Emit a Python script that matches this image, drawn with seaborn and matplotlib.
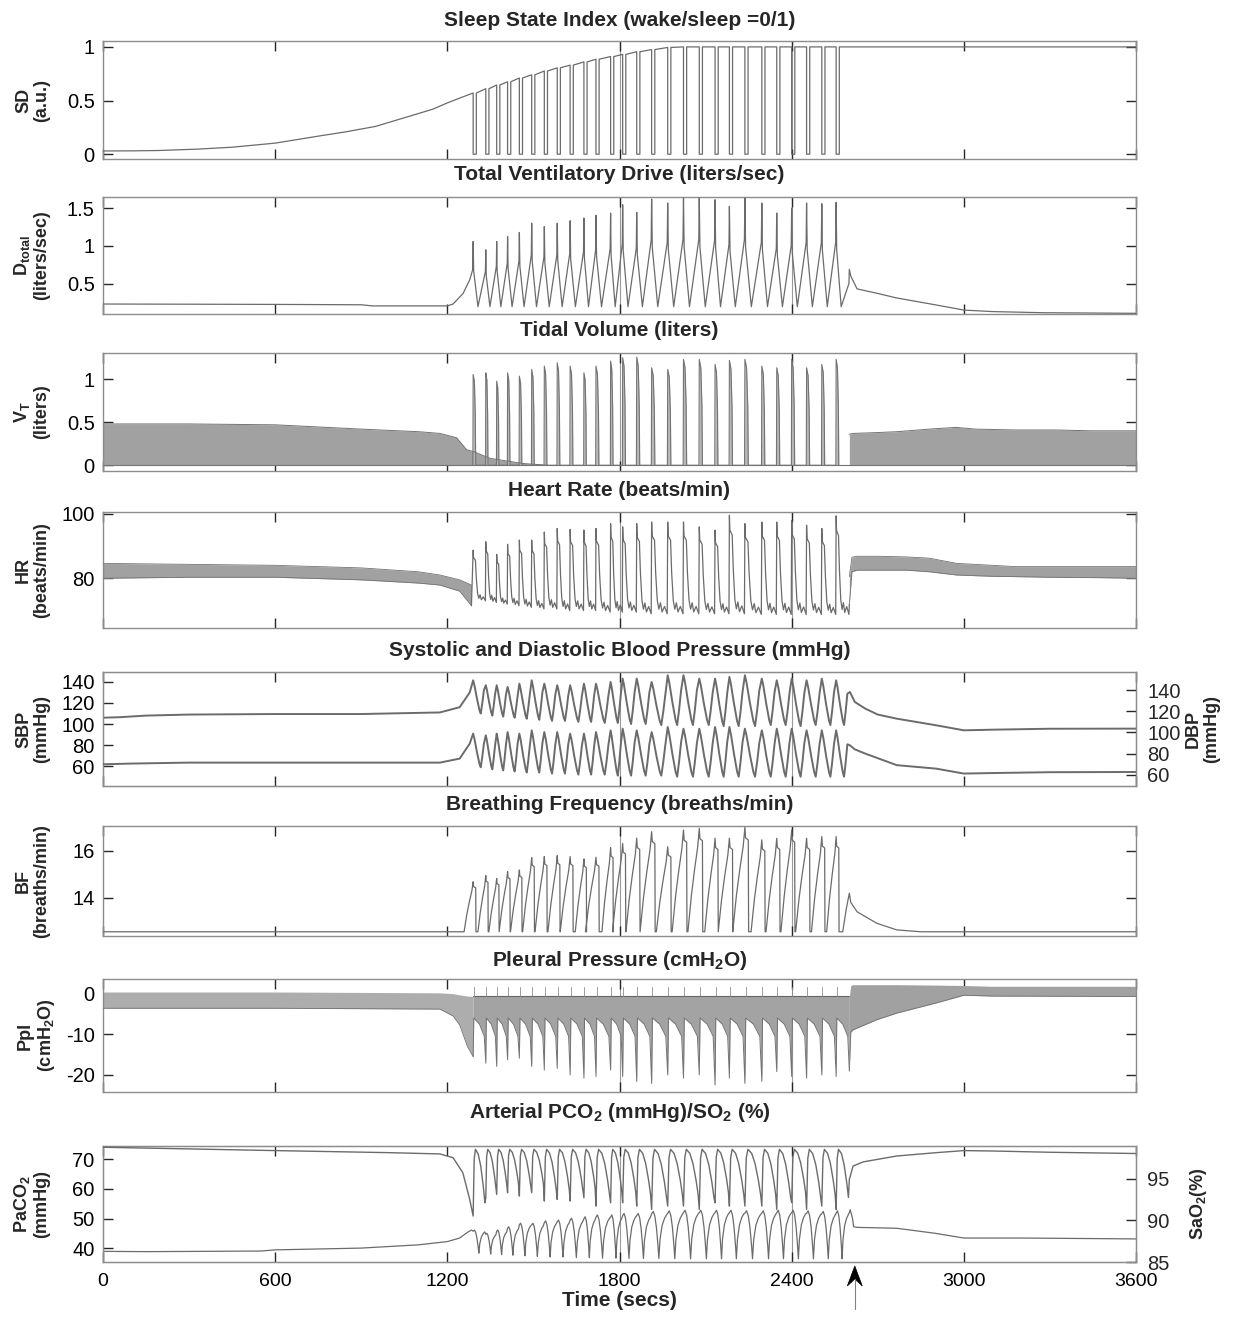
import numpy as np
import pandas as pd
import matplotlib
matplotlib.use("Agg")
import matplotlib.pyplot as plt
import seaborn as sns
from matplotlib.patches import Polygon
from matplotlib.lines import Line2D
from matplotlib.transforms import Affine2D

# ====================== DATA ======================
time_ticks = [0, 600, 1200, 1800, 2400, 3000, 3600]
seam_times = [1800, 2400]
arrow_time = 2620

# times (s) of the ventilatory-drive peaks of the periodic-breathing cycles
cycle_t = [1290, 1334, 1372, 1410, 1451, 1494, 1538, 1583, 1628, 1676, 1718, 1769, 1811,
           1860, 1912, 1968, 2023, 2078, 2133, 2183, 2237, 2296, 2348, 2400, 2452, 2505, 2555]
final_arousal_t = 2601

# 1) sleep state index
sd_pre_t = [0, 100, 192, 330, 450, 600, 743, 850, 950, 1087, 1150, 1200, 1250]
sd_pre_v = [0.03, 0.031, 0.034, 0.047, 0.065, 0.103, 0.165, 0.21, 0.259, 0.369, 0.42, 0.478, 0.53]
sd_level = [0.57, 0.61, 0.645, 0.675, 0.71, 0.74, 0.775, 0.805, 0.83, 0.86, 0.885, 0.91, 0.93,
            0.955, 0.975, 0.995, 1.0, 1.0, 1.0, 1.0, 1.0, 1.0, 1.0, 1.0, 1.0, 1.0, 1.0]
sd_wake_s = 11
sd_post_t = [2600, 3600]
sd_post_v = [1.0, 1.0]

# 2) total ventilatory drive
dt_pre_t = [0, 600, 900, 940, 1200, 1220, 1255, 1278, 1288]
dt_pre_v = [0.23, 0.225, 0.22, 0.205, 0.205, 0.23, 0.37, 0.55, 0.68]
dt_peak = [1.057, 0.947, 1.057, 1.124, 1.177, 1.30, 1.256, 1.30, 1.332, 1.367, 1.402, 1.433, 1.544,
           1.442, 1.619, 1.566, 1.632, 1.632, 1.61, 1.522, 1.632, 1.566, 1.433, 1.50, 1.566, 1.557, 1.575]
dt_trough = 0.195
dt_post_t = [2601, 2606, 2628, 2700, 2766, 2900, 3000, 3100, 3276, 3600]
dt_post_v = [0.69, 0.6, 0.43, 0.37, 0.31, 0.22, 0.15, 0.13, 0.115, 0.107]

# 3) tidal volume
vt_pre_t = [0, 300, 600, 900, 1100, 1174, 1232, 1267, 1290, 1349, 1464, 1550]
vt_pre_hi = [0.48, 0.48, 0.47, 0.42, 0.39, 0.37, 0.32, 0.18, 0.16, 0.08, 0.02, 0.0]
vt_peak = [1.055, 1.075, 0.977, 1.075, 1.036, 1.114, 1.153, 1.192, 1.153, 1.075, 1.153, 1.211, 1.25,
           1.258, 1.133, 1.114, 1.231, 1.231, 1.172, 1.219, 1.231, 1.153, 1.133, 1.231, 1.133, 1.172, 1.231]
vt_post_t = [2601, 2614, 2700, 2767, 2880, 2973, 3041, 3178, 3317, 3450, 3600]
vt_post_hi = [0.36, 0.37, 0.38, 0.39, 0.42, 0.44, 0.42, 0.41, 0.41, 0.40, 0.40]

# 4) heart rate
hr_pre_t = [0, 300, 600, 900, 1100, 1174, 1243, 1284]
hr_pre_hi = [84.6, 84.3, 84.0, 83.2, 82.0, 81.0, 79.5, 77.9]
hr_pre_lo = [80.0, 80.3, 80.3, 79.5, 78.5, 77.9, 76.0, 71.5]
hr_peak = [88.7, 91.3, 87.4, 90.5, 91.8, 91.8, 94.3, 95.4, 95.1, 94.9, 95.4, 96.9, 95.9, 96.9,
           97.4, 97.4, 97.4, 95.9, 94.9, 99.5, 96.9, 97.4, 97.4, 97.9, 96.4, 95.4, 99.3]
hr_trough = [73.0, 72.5, 72.0, 71.5, 71.0, 70.5, 70.5, 70.0, 70.0, 70.0, 69.5, 69.5, 69.5, 69.0,
             69.0, 69.0, 69.0, 69.0, 69.0, 69.0, 68.8, 68.8, 68.8, 68.8, 68.8, 68.8, 68.8]
hr_post_t = [2601, 2610, 2628, 2700, 2800, 2880, 2975, 3100, 3178, 3300, 3450, 3600]
hr_post_hi = [80.5, 86.5, 86.8, 86.8, 86.6, 86.2, 84.6, 84.0, 83.6, 83.6, 83.6, 83.6]
hr_post_lo = [72.0, 82.0, 82.5, 82.5, 82.5, 82.0, 81.0, 80.6, 80.5, 80.3, 80.2, 80.0]

# 5) blood pressure
sbp_pre_t = [0, 60, 150, 300, 600, 900, 1174, 1243, 1278]
sbp_pre_v = [106, 106.5, 108, 109, 109.5, 109.5, 111, 116, 130]
sbp_peak = [141.6, 136.9, 136.9, 135.3, 138.4, 141.6, 138.4, 136.9, 136.9, 138.4, 138.4, 140.0, 143.2,
            143.2, 140.0, 146.4, 146.4, 143.2, 143.2, 144.8, 146.4, 143.2, 141.6, 143.2, 141.6, 143.2, 141.6]
sbp_trough = [110, 108, 107, 106, 105, 104, 103, 103, 102, 102, 101, 101, 100, 100, 99, 99, 99, 99,
              98, 98, 98, 99, 99, 98, 99, 99, 99]
sbp_post_t = [2603, 2620, 2656, 2700, 2766, 2903, 3000, 3100, 3300, 3600]
sbp_post_v = [130.5, 121, 114.7, 109, 105.1, 98.8, 94.0, 94.6, 95.5, 95.6]
dbp_pre_t = [0, 100, 300, 1174, 1243, 1278]
dbp_pre_v = [69.8, 70.5, 71.4, 71.4, 75.2, 89.4]
dbp_peak = [98.9, 97.3, 98.9, 100.4, 98.9, 102.0, 100.4, 100.4, 98.9, 98.9, 100.4, 102.0, 103.6, 102.0,
            100.4, 105.2, 103.6, 103.6, 105.2, 105.2, 103.6, 102.0, 103.6, 103.6, 102.0, 102.0, 102.0]
dbp_trough = [67, 65, 64, 63, 62, 62, 61, 61, 60, 60, 60, 59, 59, 59, 59, 58, 58, 58, 58, 58, 58,
              58, 58, 58, 58, 58, 58]
dbp_post_t = [2603, 2620, 2656, 2766, 2903, 3000, 3100, 3300, 3600]
dbp_post_v = [87.8, 84.0, 80.0, 69.0, 65.7, 61.0, 61.5, 62.3, 62.5]

# 6) breathing frequency
bf_pre_t = [0, 1255]
bf_pre_v = [12.55, 12.55]
bf_base = 12.55
bf_peak = [14.68, 14.94, 14.82, 15.11, 15.18, 15.70, 15.75, 15.79, 15.75, 15.65, 15.72, 16.13, 16.31,
           16.53, 16.81, 16.17, 16.88, 16.95, 16.53, 16.53, 16.99, 16.46, 16.53, 16.88, 16.53, 16.60, 16.60]
bf_post_t = [2578, 2590, 2601, 2606, 2628, 2697, 2766, 2850, 3600]
bf_post_v = [12.55, 13.5, 14.19, 13.8, 13.4, 12.91, 12.63, 12.55, 12.55]

# 7) pleural pressure
ppl_pre_t = [0, 600, 1174, 1220, 1243, 1270, 1290]
ppl_pre_hi = [0.4, 0.4, 0.2, 0.0, -0.3, -0.6, -0.7]
ppl_pre_lo = [-3.6, -3.6, -3.8, -5.5, -7.7, -13.0, -15.5]
ppl_min = [-15.5, -17.1, -17.9, -16.3, -15.9, -17.9, -18.8, -18.4, -20.0, -20.8, -20.4, -18.8, -20.4,
           -21.6, -22.1, -20.0, -20.8, -20.0, -22.5, -20.8, -22.1, -21.6, -19.2, -20.4, -20.8, -20.0, -20.4]
ppl_cycle_top = -0.7
ppl_tick_top = 1.6
ppl_gap_v = [-6.0, -7.5, -10.5]
ppl_post_t = [2601, 2606, 2614, 2697, 2766, 2903, 3000, 3100, 3600]
ppl_post_lo = [-19.0, -9.5, -8.9, -6.4, -4.8, -2.3, -0.4, -0.6, -0.7]
ppl_post_hi = [-0.7, 2.0, 2.2, 2.2, 2.2, 2.1, 2.0, 1.8, 1.8]

# 8) arterial PCO2 (left axis) and SaO2 (right axis)
paco2_pre_t = [0, 150, 550, 600, 900, 1100, 1200, 1243, 1270, 1284]
paco2_pre_v = [38.9, 38.8, 39.0, 39.4, 40.0, 41.1, 42.2, 43.4, 45.3, 46.1]
paco2_peak = [46.1, 45.0, 46.1, 47.2, 48.4, 48.4, 49.2, 49.5, 50.1, 50.6, 51.2, 51.2, 51.7, 51.7,
              52.4, 52.6, 52.8, 52.8, 52.8, 52.8, 52.6, 52.6, 52.8, 52.8, 52.6, 52.4, 52.6]
paco2_trough = [38.3, 38.0, 37.8, 37.6, 37.4, 37.2, 37.0, 37.0, 36.8, 36.8, 36.6, 36.6, 36.5, 36.5,
                36.5, 36.4, 36.4, 36.4, 36.4, 36.4, 36.4, 36.4, 36.4, 36.4, 36.4, 36.4, 36.4]
paco2_post_t = [2601, 2604, 2612, 2616, 2628, 2766, 2900, 3000, 3200, 3600]
paco2_post_v = [52.0, 53.0, 50.0, 47.2, 47.0, 46.7, 45.0, 43.4, 43.4, 43.1]
sao2_pre_t = [0, 600, 1000, 1174, 1220, 1254, 1278]
sao2_pre_v = [98.75, 98.35, 98.1, 97.95, 97.5, 95.7, 92.5]
sao2_min = [90.5, 92.7, 93.1, 93.3, 92.9, 93.3, 92.3, 92.5, 92.3, 92.7, 91.7, 92.1, 92.1, 91.7,
            91.3, 91.7, 91.7, 91.3, 92.1, 91.7, 91.7, 91.7, 91.3, 92.1, 91.3, 91.7, 91.3]
sao2_max = 98.5
sao2_post_t = [2601, 2614, 2650, 2766, 2903, 3000, 3100, 3300, 3600]
sao2_post_v = [94.9, 96.5, 97.0, 97.7, 98.1, 98.35, 98.3, 98.15, 98.0]

# shape of one cycle as seen in the picture (phase = fraction of cycle, fr = relative amplitude)
dt_ph, dt_fr, dt_rise_ph, dt_rise_fr = [0.0, 0.04, 0.38], [1.0, 0.55, 0.0], 0.97, 0.62
vt_ph, vt_fr = [-0.02, 0.0, 0.1, 0.17, 0.2], [0.0, 1.0, 0.92, 0.55, 0.0]
hr_ph = [0, 0.03, 0.18, 0.25, 0.35, 0.45, 0.55, 0.65, 0.8, 0.97]
hr_fr = [1, 0.85, 0.8, 0.45, 0.15, 0.05, 0.12, 0.02, 0.08, 0.0]
bp_ph, bp_fr = [0, 0.1, 0.3, 0.5, 0.6, 0.72, 0.85], [1, 0.85, 0.45, 0.1, 0, 0.3, 0.7]
bf_ph = [-0.72, -0.5, -0.3, -0.1, 0, 0.04, 0.2, 0.22]
bf_fr = [0, 0.35, 0.6, 0.82, 1.0, 0.9, 0.88, 0.0]
ppl_gap_ph, ppl_tick_ph = [0.05, 0.5, 0.88], 0.04
sao2_ph, sao2_fr = [0, 0.08, 0.18, 0.4, 0.6, 0.8, 0.93], [0, 0.85, 1.0, 0.93, 0.75, 0.45, 0.2]
paco2_ph = [0, 0.1, 0.2, 0.3, 0.4, 0.45, 0.52, 0.65, 0.8, 0.92]
paco2_fr = [0.95, 1.0, 0.9, 0.65, 0.25, 0.0, 0.4, 0.7, 0.85, 0.92]

# ====================== STYLE ======================
sns.set_style("white")
plt.rcParams["font.family"] = ["Liberation Sans", "DejaVu Sans"]
plt.rcParams["mathtext.fontset"] = "custom"
plt.rcParams["mathtext.rm"] = "Liberation Sans"
plt.rcParams["mathtext.bf"] = "Liberation Sans:bold"
plt.rcParams["mathtext.it"] = "Liberation Sans:italic"

LINE = "0.42"
FILL = "0.63"
EDGE = "0.45"
TICK_FS = 14.5
LAB_FS = 13

W, H = 1241, 1321
fig = plt.figure(figsize=(W / 100, H / 100), dpi=100)
LEFT, RIGHT = 103, 1136
panel_px = [(41, 159), (197, 314), (353, 471), (512, 628), (672, 786), (826, 936), (979, 1092), (1146, 1262)]
axes = [fig.add_axes([LEFT / W, 1 - b / H, (RIGHT - LEFT) / W, (b - t) / H]) for t, b in panel_px]

N = len(cycle_t)
P = [b - a for a, b in zip(cycle_t, list(cycle_t[1:]) + [final_arousal_t])]


def wave(peaks, troughs, ph, fr):
    pk = np.broadcast_to(np.asarray(peaks, float), (N,))
    tr = np.broadcast_to(np.asarray(troughs, float), (N,))
    xs, ys = [], []
    for k in range(N):
        for a, f in zip(ph, fr):
            xs.append(cycle_t[k] + a * P[k])
            ys.append(tr[k] + f * (pk[k] - tr[k]))
    return xs, ys


def draw(ax, x, y, color=LINE, lw=0.9, z=3):
    sns.lineplot(x=np.asarray(x, float), y=np.asarray(y, float), ax=ax, sort=False,
                 estimator=None, color=color, linewidth=lw, legend=False, zorder=z)


def style(ax, ylim, yticks, ylabels, right=True):
    ax.set_xlim(0, 3600)
    ax.set_ylim(*ylim)
    ax.set_xticks(time_ticks)
    ax.set_yticks(yticks)
    ax.set_yticklabels(ylabels)
    ax.tick_params(direction="in", top=True, right=right, bottom=True, left=True, length=7,
                   width=1, color="0.15", labelsize=TICK_FS, pad=6, labelcolor="black")
    ax.tick_params(axis="x", labelbottom=False)
    for s in ax.spines.values():
        s.set_visible(True)
        s.set_color("0.55")
        s.set_linewidth(1.0)
    for t in seam_times:
        ax.axvline(t, color="0.6", lw=0.8, zorder=0.5)
    ax.set_xlabel("")


def ylab(ax, text, x=-0.051):
    ax.set_ylabel(text, fontsize=LAB_FS, fontweight="bold", linespacing=1.1)
    ax.yaxis.set_label_coords(x, 0.5)


def right_axis(ax, ylim, ticks, label, xpos):
    axr = ax.twinx()
    axr.set_xlim(0, 3600)
    axr.set_ylim(*ylim)
    axr.set_yticks(ticks)
    axr.set_yticklabels([str(t) for t in ticks])
    axr.tick_params(axis="y", direction="in", right=True, left=False, length=7, width=1,
                    color="0.15", labelsize=TICK_FS, pad=8)
    for s in axr.spines.values():
        s.set_color("0.55")
    axr.set_ylabel(label, fontsize=LAB_FS, fontweight="bold", linespacing=1.1,
                   rotation=90, va="top")
    axr.yaxis.set_label_coords(xpos, 0.5)
    return axr


# ---- 1 sleep state ----
ax = axes[0]
x, y = list(sd_pre_t), list(sd_pre_v)
for k, t0 in enumerate(cycle_t):
    x += [t0, t0, t0 + sd_wake_s, t0 + sd_wake_s]
    y += [sd_level[k], 0.0, 0.0, sd_level[k]]
x += sd_post_t
y += sd_post_v
draw(ax, x, y, lw=0.9)
style(ax, (-0.045, 1.055), [0, 0.5, 1], ["0", "0.5", "1"])
ylab(ax, "SD\n(a.u.)")

# ---- 2 ventilatory drive ----
ax = axes[1]
nxt = dt_peak[1:] + [dt_post_v[0]]
x, y = list(dt_pre_t), list(dt_pre_v)
for k, t0 in enumerate(cycle_t):
    for a, f in zip(dt_ph, dt_fr):
        x.append(t0 + a * P[k]); y.append(dt_trough + f * (dt_peak[k] - dt_trough))
    x.append(t0 + dt_rise_ph * P[k]); y.append(dt_trough + dt_rise_fr * (nxt[k] - dt_trough))
x += dt_post_t
y += dt_post_v
draw(ax, x, y, lw=0.9)
style(ax, (0.098, 1.646), [0.5, 1, 1.5], ["0.5", "1", "1.5"])
ylab(ax, "D$_\\mathbf{total}$\n(liters/sec)")

# ---- 3 tidal volume ----
ax = axes[2]
ax.fill_between(vt_pre_t, 0, vt_pre_hi, color=FILL, lw=0, zorder=2)
draw(ax, vt_pre_t, vt_pre_hi, color=EDGE, lw=0.7)
x, y = wave(vt_peak, 0.0, vt_ph, vt_fr)
ax.fill_between(x, 0, y, color="0.72", lw=0, zorder=2)
draw(ax, x, y, color=EDGE, lw=0.8)
ax.fill_between(vt_post_t, 0, vt_post_hi, color=FILL, lw=0, zorder=2)
draw(ax, vt_post_t, vt_post_hi, color=EDGE, lw=0.7)
draw(ax, [0, 3600], [0, 0], color=EDGE, lw=0.8)
style(ax, (-0.067, 1.305), [0, 0.5, 1], ["0", "0.5", "1"])
ylab(ax, "V$_\\mathbf{T}$\n(liters)")

# ---- 4 heart rate ----
ax = axes[3]
ax.fill_between(hr_pre_t, hr_pre_lo, hr_pre_hi, color=FILL, lw=0, zorder=2)
draw(ax, hr_pre_t, hr_pre_hi, color=EDGE, lw=0.6)
draw(ax, hr_pre_t, hr_pre_lo, color=EDGE, lw=0.6)
x, y = wave(hr_peak, hr_trough, hr_ph, hr_fr)
x = [hr_pre_t[-1]] + x + [hr_post_t[0]]
y = [hr_pre_lo[-1]] + y + [hr_post_lo[0]]
draw(ax, x, y, lw=0.9)
ax.fill_between(hr_post_t, hr_post_lo, hr_post_hi, color=FILL, lw=0, zorder=2)
draw(ax, hr_post_t, hr_post_hi, color=EDGE, lw=0.6)
draw(ax, hr_post_t, hr_post_lo, color=EDGE, lw=0.6)
style(ax, (64.6, 100.5), [80, 100], ["80", "100"])
ylab(ax, "HR\n(beats/min)")

# ---- 5 blood pressure ----
ax = axes[4]
x, y = wave(sbp_peak, sbp_trough, bp_ph, bp_fr)
draw(ax, list(sbp_pre_t) + x + list(sbp_post_t), list(sbp_pre_v) + y + list(sbp_post_v), lw=1.4)
style(ax, (41, 149.5), [60, 80, 100, 120, 140], ["60", "80", "100", "120", "140"], right=False)
ylab(ax, "SBP\n(mmHg)")
axr = right_axis(ax, (49.2, 157.4), [60, 80, 100, 120, 140], "DBP\n(mmHg)", 1.047)
x, y = wave(dbp_peak, dbp_trough, bp_ph, bp_fr)
draw(axr, list(dbp_pre_t) + x + list(dbp_post_t), list(dbp_pre_v) + y + list(dbp_post_v), lw=1.4)
axr.set_ylim(49.2, 157.4)
axr.set_xlabel("")

# ---- 6 breathing frequency ----
ax = axes[5]
x, y = wave(bf_peak, bf_base, bf_ph, bf_fr)
draw(ax, list(bf_pre_t) + x + list(bf_post_t), list(bf_pre_v) + y + list(bf_post_v), lw=0.9)
style(ax, (12.37, 17.05), [14, 16], ["14", "16"])
ylab(ax, "BF\n(breaths/min)")

# ---- 7 pleural pressure ----
ax = axes[6]
ax.fill_between(ppl_pre_t, ppl_pre_lo, ppl_pre_hi, color="0.68", lw=0, zorder=2)
draw(ax, ppl_pre_t, ppl_pre_lo, color=EDGE, lw=0.6)
x, y = [], []
for k, t0 in enumerate(cycle_t):
    x.append(t0); y.append(ppl_min[k])
    for a, v in zip(ppl_gap_ph, ppl_gap_v):
        x.append(t0 + a * P[k]); y.append(v)
x.append(ppl_post_t[0]); y.append(ppl_post_lo[0])
ax.fill_between(x, y, ppl_cycle_top, color="0.64", lw=0, zorder=2)
draw(ax, x, y, color=EDGE, lw=0.7)
draw(ax, [cycle_t[0], final_arousal_t], [ppl_cycle_top, ppl_cycle_top], color="0.4", lw=0.8)
for k, t0 in enumerate(cycle_t):
    tt = t0 + ppl_tick_ph * P[k]
    ax.plot([tt, tt], [ppl_cycle_top, ppl_tick_top], color="0.55", lw=0.6, zorder=3)
ax.fill_between(ppl_post_t, ppl_post_lo, ppl_post_hi, color="0.63", lw=0, zorder=2)
draw(ax, ppl_post_t, ppl_post_lo, color=EDGE, lw=0.6)
style(ax, (-24.2, 3.6), [-20, -10, 0], ["-20", "-10", "0"])
ylab(ax, "Ppl\n(cmH$_\\mathbf{2}$O)", x=-0.045)

# ---- 8 PaCO2 / SaO2 ----
ax = axes[7]
x, y = wave(paco2_peak, paco2_trough, paco2_ph, paco2_fr)
draw(ax, list(paco2_pre_t) + x + list(paco2_post_t), list(paco2_pre_v) + y + list(paco2_post_v), lw=0.9)
style(ax, (35.3, 74.5), [40, 50, 60, 70], ["40", "50", "60", "70"], right=False)
ax.tick_params(axis="x", labelbottom=True, pad=8, labelsize=14)
ax.set_xticklabels([str(t) for t in time_ticks])
ax.set_xlabel("Time (secs)", fontsize=15, fontweight="bold", labelpad=1)
ylab(ax, "PaCO$_\\mathbf{2}$\n(mmHg)")
axr = right_axis(ax, (85, 98.9), [85, 90, 95], "SaO$_\\mathbf{2}$(%)", 1.05)
x, y = wave(sao2_max, sao2_min, sao2_ph, sao2_fr)
draw(axr, list(sao2_pre_t) + x + list(sao2_post_t), list(sao2_pre_v) + y + list(sao2_post_v), lw=1.0)
axr.set_ylim(85, 98.9)
axr.set_xlabel("")

# ---- titles ----
titles = ["Sleep State Index (wake/sleep =0/1)", "Total Ventilatory Drive (liters/sec)",
          "Tidal Volume (liters)", "Heart Rate (beats/min)",
          "Systolic and Diastolic Blood Pressure (mmHg)", "Breathing Frequency (breaths/min)",
          "Pleural Pressure (cmH$_\\mathbf{2}$O)", "Arterial PCO$_\\mathbf{2}$ (mmHg)/SO$_\\mathbf{2}$ (%)"]
title_y = [20, 175, 330, 491, 650, 805, 960, 1113]
for txt, ty in zip(titles, title_y):
    fig.text((LEFT + RIGHT) / 2 / W, 1 - ty / H, txt, ha="center", va="center",
             fontsize=15, fontweight="bold")

# ---- arousal arrow under the time axis ----
xd, yd = axes[7].transData.transform((arrow_time, axes[7].get_ylim()[0]))
tr = Affine2D().translate(xd, yd)
fig.add_artist(Line2D([0, 0], [-17, -47], transform=tr, color="0.5", lw=0.8))
fig.add_artist(Polygon([(0, -4), (-7.5, -24), (0, -17), (7.5, -24)], closed=True, transform=tr,
                       facecolor="black", edgecolor="black", lw=0.5))

fig.savefig("out.png", dpi=100)
